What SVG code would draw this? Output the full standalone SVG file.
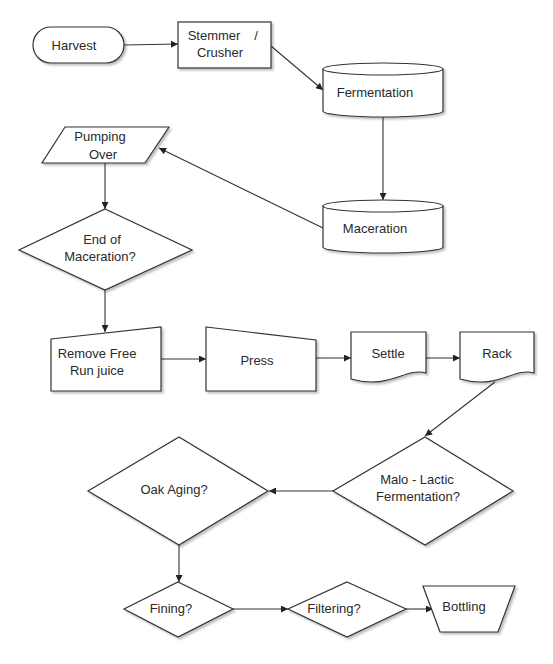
<svg xmlns="http://www.w3.org/2000/svg" width="553" height="664" viewBox="0 0 553 664">
<defs>
<marker id="arr" viewBox="0 0 10 10" refX="10" refY="5" markerWidth="9" markerHeight="7" markerUnits="userSpaceOnUse" orient="auto">
<path d="M0,0 L10,5 L0,10 Z" fill="#222"/>
</marker>
<filter id="sh" x="-10%" y="-10%" width="130%" height="130%">
<feDropShadow dx="2" dy="2" stdDeviation="1.2" flood-color="#000" flood-opacity="0.25"/>
</filter>
</defs>
<style>
.n{fill:#fff;stroke:#333;stroke-width:1.2;filter:url(#sh)}
.c{fill:none;stroke:#333;stroke-width:1.1;marker-end:url(#arr)}
text{font-family:"Liberation Sans",Arial,sans-serif;font-size:13px;fill:#2a2a2a;text-anchor:middle}
</style>
<rect width="553" height="664" fill="#fff"/>
<g id="connectors">
<path class="c" d="M124,45 L178,44"/>
<path class="c" d="M271,46 L323,90"/>
<path class="c" d="M383,117 L383,200"/>
<path class="c" d="M323,228 L159,148"/>
<path class="c" d="M105,163 L105,209"/>
<path class="c" d="M105,290 L105,332"/>
<path class="c" d="M161,359 L206,359"/>
<path class="c" d="M316,358 L351,358"/>
<path class="c" d="M426,358 L460,358"/>
<path class="c" d="M495,382 L425,436"/>
<path class="c" d="M333,491 L269,491"/>
<path class="c" d="M179,545 L179,582"/>
<path class="c" d="M233,609 L288,609"/>
<path class="c" d="M406,609 L433,609"/>
</g>
<g id="harvest">
<rect class="n" x="33" y="27" width="91" height="36" rx="18" ry="18"/>
<text x="74" y="50">Harvest</text>
</g>
<g id="stemmer">
<rect class="n" x="178" y="22" width="93" height="46"/>
<text x="214" y="40">Stemmer</text>
<text x="256" y="40">/</text>
<text x="220" y="57">Crusher</text>
</g>
<g id="fermentation">
<path class="n" d="M323,69 A60,6 0 0 1 443,69 V111 A60,6 0 0 1 323,111 Z"/>
<path d="M323,69 A60,6 0 0 0 443,69" fill="none" stroke="#333" stroke-width="1.2"/>
<text x="375" y="97">Fermentation</text>
</g>
<g id="maceration">
<path class="n" d="M323,206 A60,6 0 0 1 443,206 V247 A60,6 0 0 1 323,247 Z"/>
<path d="M323,206 A60,6 0 0 0 443,206" fill="none" stroke="#333" stroke-width="1.2"/>
<text x="375" y="233">Maceration</text>
</g>
<g id="pumping">
<path class="n" d="M65,127 L169,127 L145,163 L42,163 Z"/>
<text x="100" y="141">Pumping</text>
<text x="103" y="159">Over</text>
</g>
<g id="endmac">
<path class="n" d="M105,209 L192,250 L105,290 L19,250 Z"/>
<text x="102" y="244">End of</text>
<text x="100" y="261">Maceration?</text>
</g>
<g id="removefree">
<path class="n" d="M51,339 L161,327 L161,391 L51,391 Z"/>
<text x="97" y="358">Remove Free</text>
<text x="97" y="375">Run juice</text>
</g>
<g id="press">
<path class="n" d="M206,327 L316,340 L316,391 L206,391 Z"/>
<text x="257" y="365">Press</text>
</g>
<g id="settle">
<path class="n" d="M351,332 H426 V373 C405,367 390,390 351,379 Z"/>
<text x="388" y="358">Settle</text>
</g>
<g id="rack">
<path class="n" d="M460,332 H534 V373 C513,367 499,390 460,379 Z"/>
<text x="497" y="358">Rack</text>
</g>
<g id="malo">
<path class="n" d="M425,437 L513,491 L425,545 L333,491 Z"/>
<text x="417" y="484">Malo - Lactic</text>
<text x="418" y="501">Fermentation?</text>
</g>
<g id="oak">
<path class="n" d="M179,437 L268,491 L179,545 L88,491 Z"/>
<text x="174" y="494">Oak Aging?</text>
</g>
<g id="fining">
<path class="n" d="M178,582 L233,609 L178,637 L124,609 Z"/>
<text x="171" y="613">Fining?</text>
</g>
<g id="filtering">
<path class="n" d="M347,582 L406,609 L347,637 L288,609 Z"/>
<text x="334" y="613">Filtering?</text>
</g>
<g id="bottling">
<path class="n" d="M423,586 L515,586 L498,632 L440,632 Z"/>
<text x="464" y="611">Bottling</text>
</g>
</svg>
